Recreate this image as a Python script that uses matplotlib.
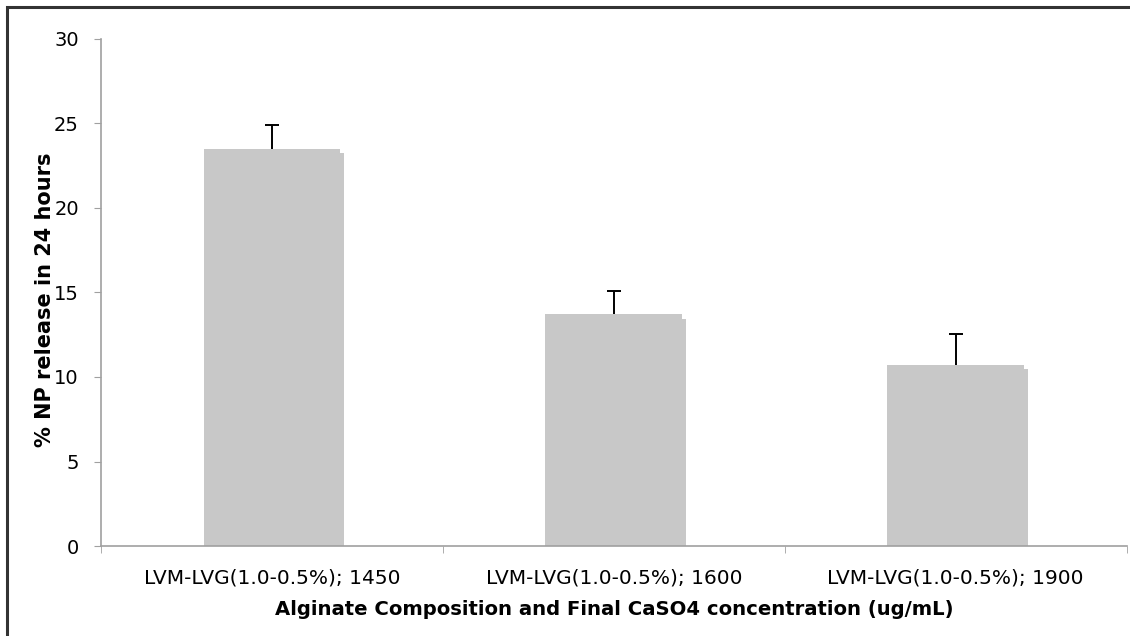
import matplotlib
matplotlib.use("Agg")
import matplotlib.pyplot as plt
import matplotlib.patheffects as pe
from matplotlib.patches import Rectangle
import numpy as np

categories = ["LVM-LVG(1.0-0.5%); 1450",
              "LVM-LVG(1.0-0.5%); 1600",
              "LVM-LVG(1.0-0.5%); 1900"]
release = [23.5, 13.7, 10.7]
err_up = [1.4, 1.4, 1.85]

plt.rcParams['font.family'] = ['DejaVu Sans']

fig = plt.figure(figsize=(11.3, 6.36), dpi=100)
ax = fig.add_axes([0.0894, 0.1415, 0.9076, 0.7972])

# frame round the whole picture
fig.patches.append(Rectangle((7 / 1130, -0.1), 1.2, 1 - 7 / 636 + 0.1,
                             transform=fig.transFigure, fill=False,
                             edgecolor='#333333', linewidth=2.2))

x = np.arange(len(categories))
shadow = [pe.SimplePatchShadow(offset=(3, -3), shadow_rgbFace='#c8c8c8', alpha=1),
          pe.Normal()]
bars = ax.bar(x, release, width=0.40, color='#c8c8c8', zorder=2)
for b in bars:
    b.set_path_effects(shadow)

# upper error bars only, cap on top
eb = ax.errorbar(x, release, yerr=[np.zeros(3), err_up], fmt='none',
                 ecolor='black', elinewidth=1.4, capsize=4.7, capthick=1.4, zorder=3)
eb[1][0].set_visible(False)

ax.set_xlim(-0.5, 2.5)
ax.set_ylim(0, 30)
ax.set_yticks(range(0, 31, 5))
ax.set_xticks(x)
ax.set_xticklabels(categories)
ax.set_xticks([-0.5, 0.5, 1.5, 2.5], minor=True)

for s in ['top', 'right']:
    ax.spines[s].set_visible(False)
for s in ['left', 'bottom']:
    ax.spines[s].set_color('#a0a0a0')
    ax.spines[s].set_linewidth(1.2)

ax.tick_params(axis='y', length=5, color='#a0a0a0', labelsize=14, pad=11)
ax.tick_params(axis='x', which='major', length=0, labelsize=14.5, pad=16)
ax.tick_params(axis='x', which='minor', length=5, color='#a0a0a0')

ax.set_ylabel("% NP release in 24 hours", fontsize=15, fontweight='bold')
ax.set_xlabel("Alginate Composition and Final CaSO4 concentration (ug/mL)",
              fontsize=14.1, fontweight='bold')
ax.yaxis.set_label_coords(-0.045, 0.485)
ax.xaxis.set_label_coords(0.5, -0.106)

fig.savefig("out.png", dpi=100)
